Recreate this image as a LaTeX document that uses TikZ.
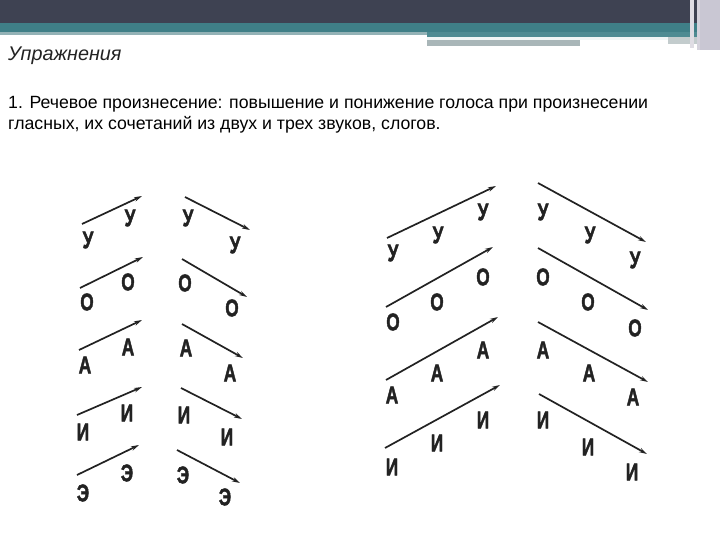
\documentclass[tikz,border=0pt]{standalone}
\usepackage{graphicx}
\usepackage{fontspec}
\setmainfont{Liberation Sans}
\newfontfamily\heavyfont[FakeBold=2.2]{Liberation Sans Bold}
\newcommand{\vlet}[1]{\scalebox{0.72}[1]{#1}}
\usetikzlibrary{arrows.meta}
\definecolor{hdark}{HTML}{3E4252}
\definecolor{hteal}{HTML}{3F7F87}
\definecolor{hteal2}{HTML}{4E8B92}
\definecolor{hlight}{HTML}{93B2B6}
\definecolor{hgray}{HTML}{A9B6B8}
\definecolor{hside}{HTML}{C9C7D3}
\definecolor{ink}{HTML}{222222}
\tikzset{
  lett/.style={inner sep=0pt, text=ink, font=\heavyfont\fontsize{24}{24}\selectfont},
  arr/.style={draw=ink, line width=1.7pt, -{Stealth[length=8pt,width=4.5pt]}},
  body/.style={anchor=base west, inner sep=0pt, text=black, font=\fontsize{17.7}{17.7}\selectfont},
}
\begin{document}
\begin{tikzpicture}[x=1pt,y=-1pt]
\useasboundingbox (0,0) rectangle (720,540);
\fill[white] (0,0) rectangle (720,540);
% header bands
\fill[hdark] (0,0) rectangle (720,23);
\fill[hteal] (0,23) rectangle (700,32);
\fill[hlight] (0,32) rectangle (427,35);
\fill[hteal2] (427,32) rectangle (700,37);
\fill[white!92!hteal] (427,37) rectangle (668,40);
\fill[hgray] (427,40) rectangle (580,46);
\fill[hgray!70] (668,37) rectangle (700,44);
\fill[hside] (700,0) rectangle (720,50);
\fill[hside!60] (690,0) rectangle (694,48);
\fill[hside!80] (697,0) rectangle (700,50);
% texts
\node[anchor=base west, inner sep=0pt, text=ink, font=\itshape\fontsize{19.8}{19.8}\selectfont] (title) at (8,61) {Упражнения};
\node[body] (line1) at (8,109) {1. Речевое произнесение: повышение и понижение голоса при произнесении};
\node[body] (line2) at (8,130) {гласных, их сочетаний из двух и трех звуков, слогов.};

% ---------- left group, rising ----------
\coordinate (a1s) at (82,224); \coordinate (a1e) at (142,196);
\node[lett] (a1l) at (88,240) {\vlet{У}}; \node[lett] (a1h) at (130,218) {\vlet{У}};
\coordinate (a2s) at (80,288); \coordinate (a2e) at (143,257);
\node[lett] (a2l) at (87,302) {\vlet{О}}; \node[lett] (a2h) at (128,282) {\vlet{О}};
\coordinate (a3s) at (79,350); \coordinate (a3e) at (142,320);
\node[lett] (a3l) at (85,365) {\vlet{А}}; \node[lett] (a3h) at (128,347) {\vlet{А}};
\coordinate (a4s) at (77,415); \coordinate (a4e) at (142,387);
\node[lett] (a4l) at (83,432) {\vlet{И}}; \node[lett] (a4h) at (127,413) {\vlet{И}};
\coordinate (a5s) at (77,475); \coordinate (a5e) at (139,445);
\node[lett] (a5l) at (83,493) {\vlet{Э}}; \node[lett] (a5h) at (127,473) {\vlet{Э}};
% ---------- left group, falling ----------
\coordinate (b1s) at (185,197); \coordinate (b1e) at (250,230);
\node[lett] (b1h) at (188,218) {\vlet{У}}; \node[lett] (b1l) at (235,245) {\vlet{У}};
\coordinate (b2s) at (182,259); \coordinate (b2e) at (247,297);
\node[lett] (b2h) at (185,283) {\vlet{О}}; \node[lett] (b2l) at (232,308) {\vlet{О}};
\coordinate (b3s) at (182,324); \coordinate (b3e) at (243,358);
\node[lett] (b3h) at (186,348) {\vlet{А}}; \node[lett] (b3l) at (230,373) {\vlet{А}};
\coordinate (b4s) at (181,388); \coordinate (b4e) at (242,419);
\node[lett] (b4h) at (184,415) {\vlet{И}}; \node[lett] (b4l) at (227,437) {\vlet{И}};
\coordinate (b5s) at (177,450); \coordinate (b5e) at (240,483);
\node[lett] (b5h) at (183,475) {\vlet{Э}}; \node[lett] (b5l) at (225,497) {\vlet{Э}};
\foreach \i in {1,...,5} {
  \draw[arr] (a\i s) -- (a\i e);
  \draw[arr] (b\i s) -- (b\i e);
}

% ---------- right group, rising ----------
\coordinate (c1s) at (387,238); \coordinate (c1e) at (496,186);
\node[lett] (c1a) at (393,253) {\vlet{У}}; \node[lett] (c1b) at (438,235) {\vlet{У}}; \node[lett] (c1c) at (483,212) {\vlet{У}};
\coordinate (c2s) at (386,307); \coordinate (c2e) at (493,247);
\node[lett] (c2a) at (393,322) {\vlet{О}}; \node[lett] (c2b) at (437,302) {\vlet{О}}; \node[lett] (c2c) at (483,277) {\vlet{О}};
\coordinate (c3s) at (386,380); \coordinate (c3e) at (498,317);
\node[lett] (c3a) at (392,395) {\vlet{А}}; \node[lett] (c3b) at (437,373) {\vlet{А}}; \node[lett] (c3c) at (483,350) {\vlet{А}};
\coordinate (c4s) at (385,448); \coordinate (c4e) at (500,385);
\node[lett] (c4a) at (392,467) {\vlet{И}}; \node[lett] (c4b) at (437,443) {\vlet{И}}; \node[lett] (c4c) at (483,420) {\vlet{И}};
% ---------- right group, falling ----------
\coordinate (d1s) at (538,183); \coordinate (d1e) at (646,242);
\node[lett] (d1a) at (543,212) {\vlet{У}}; \node[lett] (d1b) at (590,235) {\vlet{У}}; \node[lett] (d1c) at (635,260) {\vlet{У}};
\coordinate (d2s) at (538,248); \coordinate (d2e) at (648,310);
\node[lett] (d2a) at (543,277) {\vlet{О}}; \node[lett] (d2b) at (588,302) {\vlet{О}}; \node[lett] (d2c) at (635,328) {\vlet{О}};
\coordinate (d3s) at (538,322); \coordinate (d3e) at (648,382);
\node[lett] (d3a) at (543,350) {\vlet{А}}; \node[lett] (d3b) at (589,373) {\vlet{А}}; \node[lett] (d3c) at (633,397) {\vlet{А}};
\coordinate (d4s) at (539,394); \coordinate (d4e) at (647,454);
\node[lett] (d4a) at (543,420) {\vlet{И}}; \node[lett] (d4b) at (588,447) {\vlet{И}}; \node[lett] (d4c) at (632,472) {\vlet{И}};
\foreach \i in {1,...,4} {
  \draw[arr] (c\i s) -- (c\i e);
  \draw[arr] (d\i s) -- (d\i e);
}
\end{tikzpicture}
\end{document}
